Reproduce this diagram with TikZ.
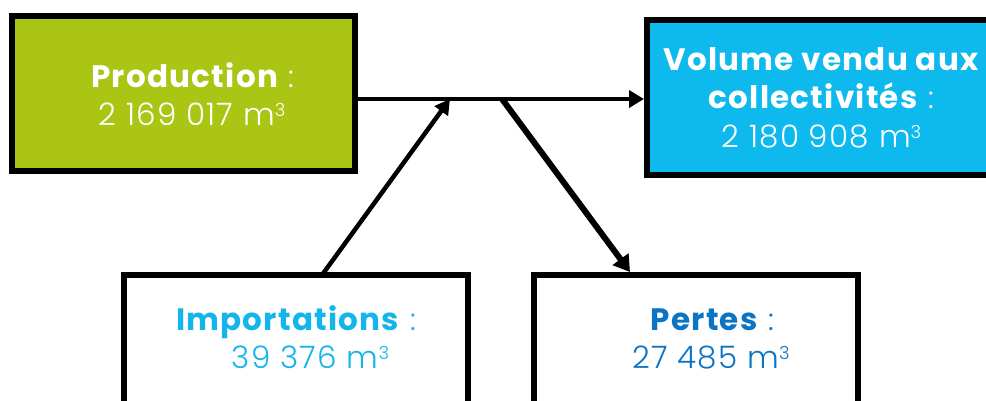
\documentclass[tikz,border=0pt]{standalone}
\usepackage{fontspec}
\setmainfont{Poppins}[LetterSpace=4]
\newfontfamily\lightf{Poppins}[UprightFont={* Light},LetterSpace=4]
\usetikzlibrary{arrows.meta}
\definecolor{prodgreen}{HTML}{AAC514}
\definecolor{volblue}{HTML}{0EB9EE}
\definecolor{impblue}{HTML}{13B5EA}
\definecolor{perblue}{HTML}{0B74C4}
\newcommand{\cubic}{\raisebox{9pt}{\fontsize{18}{18}\selectfont 3}}
\begin{document}
\begin{tikzpicture}[x=1pt,y=-1pt,
  box/.style={draw=black,line width=6pt,inner sep=0pt,rectangle},
  lbl/.style={anchor=base,inner sep=0pt,font=\fontsize{31}{36}\selectfont},
  conn/.style={draw=black,line width=4.5pt}]
\useasboundingbox (0,0) rectangle (986,400);
\fill[white] (0,0) rectangle (986,400);
% boxes
\node[box,fill=prodgreen,minimum width=343pt,minimum height=155pt] (prod) at (183.5,93.5) {};
\node[box,fill=volblue,minimum width=363pt,minimum height=155pt] (vol) at (828.5,97.5) {};
\node[box,fill=white,minimum width=344pt,minimum height=160pt] (imp) at (296,355) {};
\node[box,fill=white,minimum width=324pt,minimum height=160pt] (per) at (696,355) {};
% texts
\node[lbl,text=white] (prodA) at (193,87) {\textbf{Production}\lightf{} :};
\node[lbl,text=white] (prodB) at (192,125) {\lightf 2 169 017 m\cubic};
\node[lbl,text=white] (volA) at (821.5,70) {\textbf{Volume vendu aux}};
\node[lbl,text=white] (volB) at (821.5,108) {\textbf{collectivités}\lightf{} :};
\node[lbl,text=white] (volC) at (821.5,147) {\lightf 2 180 908 m\cubic};
\node[lbl,text=impblue] (impA) at (296,330) {\textbf{Importations}\lightf{} :};
\node[lbl,text=impblue] (impB) at (310.5,368) {\lightf 39 376 m\cubic};
\node[lbl,text=perblue] (perA) at (712.5,330) {\textbf{Pertes}\lightf{} :};
\node[lbl,text=perblue] (perB) at (711,368) {\lightf 27 485 m\cubic};
% connectors
\coordinate (j1) at (450,99);
\coordinate (j2) at (502,99);
\coordinate (impstart) at (322,275);
\coordinate (perend) at (630,272);
\draw[conn,-{Triangle[length=15pt,width=17pt]}] (prod.east |- j1) -- (vol.west |- j1);
\draw[conn,-{Triangle[length=15pt,width=16pt]}] (impstart) -- (j1);
\draw[conn,line width=6pt,-{Triangle[length=16pt,width=19pt]}] (j2) -- (perend);
\end{tikzpicture}
\end{document}
